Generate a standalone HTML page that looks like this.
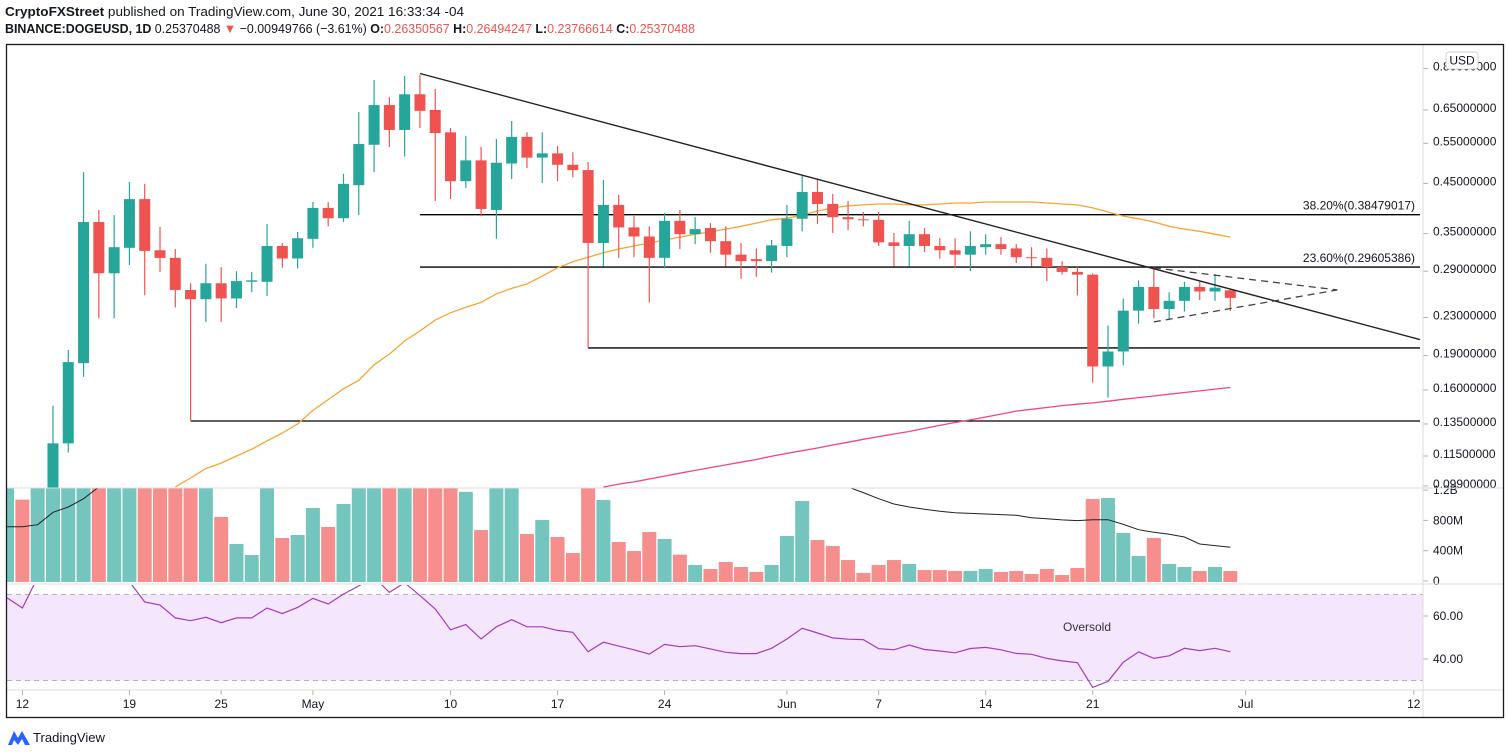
<!DOCTYPE html>
<html>
<head>
<meta charset="utf-8">
<style>
html,body{margin:0;padding:0;background:#fff;}
svg{display:block;font-family:"Liberation Sans",sans-serif;}
</style>
</head>
<body>
<svg id="chart" width="1508" height="755" viewBox="0 0 1508 755" xmlns="http://www.w3.org/2000/svg">
  <defs>
    <clipPath id="cpPrice"><rect x="7" y="45" width="1416" height="443"/></clipPath>
    <clipPath id="cpVol"><rect x="7" y="488" width="1416" height="95"/></clipPath>
    <clipPath id="cpRsi"><rect x="7" y="585" width="1416" height="105"/></clipPath>
  </defs>
  <rect x="0" y="0" width="1508" height="755" fill="#ffffff"/>
  <text x="5" y="16" font-size="13" fill="#131722" textLength="459" lengthAdjust="spacingAndGlyphs"><tspan font-weight="bold">CryptoFXStreet</tspan> published on TradingView.com, June 30, 2021 16:33:34 -04</text>
  <text x="5" y="33" font-size="13" fill="#131722" textLength="690" lengthAdjust="spacingAndGlyphs"><tspan font-weight="bold">BINANCE:DOGEUSD, 1D</tspan> 0.25370488 <tspan fill="#ef5350">▼</tspan> −0.00949766 (−3.61%) <tspan font-weight="bold">O:</tspan><tspan fill="#ef5350">0.26350567</tspan> <tspan font-weight="bold">H:</tspan><tspan fill="#ef5350">0.26494247</tspan> <tspan font-weight="bold">L:</tspan><tspan fill="#ef5350">0.23766614</tspan> <tspan font-weight="bold">C:</tspan><tspan fill="#ef5350">0.25370488</tspan></text>

  <g id="rsiBg"></g>
  <g id="pricePane" clip-path="url(#cpPrice)"></g>
  <g id="volPane" clip-path="url(#cpVol)"></g>
  <g id="rsiPane" clip-path="url(#cpRsi)"></g>
  <g id="axes"></g>

  <line x1="7" y1="488" x2="1503" y2="488" stroke="#dcdcdc" stroke-width="1"/>
  <line x1="7" y1="584" x2="1503" y2="584" stroke="#dcdcdc" stroke-width="1"/>
  <line x1="7" y1="690" x2="1503" y2="690" stroke="#dcdcdc" stroke-width="1"/>
  <line x1="1423" y1="45" x2="1423" y2="717" stroke="#dcdcdc" stroke-width="1"/>
  <rect x="6.5" y="44.5" width="1497" height="673" fill="none" stroke="#1a1a1a" stroke-width="1.3"/>

  <text x="1087" y="631" font-size="12" fill="#333" text-anchor="middle">Oversold</text>

  <rect x="1446" y="52" width="32" height="17" rx="3" fill="#fff" stroke="#d0d0d0"/>
  <text x="1462" y="64.5" font-size="12" fill="#131722" text-anchor="middle">USD</text>

  <g>
    <path d="M8 745 L14 731 L18 738 L22 731 L30 745 L25 745 L22 739 L18 745 L14 740 L12 745 Z" fill="#2962ff"/>
    <text x="33" y="742" font-size="13" fill="#131722" textLength="72" lengthAdjust="spacingAndGlyphs">TradingView</text>
  </g>
</svg>
<script>
// ---- data (day index d: -1 = Apr 11, 0 = Apr 12 ... 79 = Jun 30) ----
const firstDay = -1;
const opens = [.058,.064,.061,.093,.1225,.183,.371,.287,.326,.416,.322,.310,.264,.252,.273,.253,.275,.275,.329,.309,.341,.398,.378,.446,.546,.666,.588,.703,.650,.581,.455,.505,.394,.497,.568,.512,.523,.494,.481,.334,.404,.361,.345,.310,.373,.349,.360,.337,.315,.308,.305,.329,.377,.431,.406,.380,.376,.375,.335,.329,.349,.329,.322,.315,.327,.332,.325,.311,.310,.296,.289,.285,.180,.194,.238,.268,.240,.250,.268,.262,.2635];
const highs = [.062,.068,.097,.148,.1955,.476,.394,.384,.453,.449,.362,.324,.273,.301,.296,.290,.289,.367,.334,.353,.410,.410,.472,.643,.755,.693,.770,.774,.722,.594,.571,.540,.562,.615,.581,.581,.543,.526,.501,.458,.425,.382,.363,.388,.394,.380,.369,.363,.334,.325,.339,.404,.470,.461,.427,.412,.390,.390,.351,.373,.360,.342,.342,.354,.349,.344,.332,.327,.325,.305,.296,.287,.221,.253,.277,.296,.261,.275,.275,.286,.2649];
const lows = [.056,.058,.060,.090,.117,.171,.229,.229,.299,.257,.289,.242,.137,.225,.225,.241,.261,.256,.295,.294,.326,.363,.371,.384,.476,.540,.515,.594,.412,.416,.440,.382,.341,.460,.486,.451,.455,.464,.198,.297,.310,.311,.248,.294,.324,.332,.318,.297,.279,.282,.288,.311,.354,.367,.351,.356,.363,.329,.297,.297,.319,.309,.295,.290,.315,.315,.302,.297,.276,.285,.257,.166,.154,.181,.223,.229,.227,.237,.251,.250,.2377];
const closes = [.060,.061,.093,.1225,.184,.371,.287,.327,.416,.321,.310,.264,.252,.273,.253,.276,.277,.329,.309,.342,.398,.378,.449,.548,.666,.588,.703,.647,.579,.455,.505,.396,.499,.568,.512,.523,.494,.481,.334,.404,.361,.345,.310,.373,.349,.358,.337,.315,.305,.305,.330,.377,.431,.406,.380,.376,.375,.335,.329,.349,.329,.322,.315,.329,.332,.324,.311,.310,.296,.289,.285,.180,.194,.238,.268,.240,.250,.268,.262,.267,.2537];
// volume in millions
const volumes = [1500,1087,1800,2200,2600,3500,2800,1900,2000,2100,1600,1500,1400,1300,858,502,356,1400,581,620,977,726,1030,2200,3000,2500,2800,2600,2900,1900,1190,686,1500,1300,634,818,594,383,1300,1082,528,409,660,568,361,224,172,264,198,132,224,607,1069,554,475,290,119,224,290,238,158,158,145,145,172,132,145,106,172,92,185,1096,1109,647,343,581,238,198,145,198,145];
const volumeMA = [730,730,757,920,990,1100,1254,1350,1450,1550,1650,1750,1800,1850,1880,1900,1900,1920,1950,1980,2000,2050,2100,2150,2200,2220,2200,2150,2100,2080,2050,2000,1950,1900,1880,1850,1800,1780,1750,1700,1650,1600,1550,1500,1480,1450,1420,1400,1380,1360,1340,1320,1300,1290,1270,1254,1180,1100,1030,990,960,933,915,905,898,890,880,849,835,820,810,823,823,760,690,656,630,594,502,480,458];
const rsiValues = [68.4,63.7,78,85,89,90,75,77,76,66.5,65.1,59.1,57.8,59.4,56.9,59.1,59.1,63.7,61.1,64.0,68.2,65.6,70.2,74,78,71,75.5,69.5,63.3,53.6,56,49.3,55,58.3,55,55,53.3,52.4,43.4,47.8,46.0,44.3,42.3,46.8,45.7,46.2,44.7,43.1,42.5,42.5,45,49.3,54.3,52.1,49.8,49.2,49,44.8,44.3,46.5,44.4,43.7,42.9,44.9,45.4,44.3,42.6,42.2,40.3,39.1,38.3,26.8,29.6,38.5,43.3,40.3,41.5,45,43.9,45,43.4];
const ma50Start = 10;
const ma50 = [.0985,.103,.108,.111,.115,.119,.124,.129,.135,.1445,.1525,.161,.168,.1815,.1915,.2045,.215,.227,.2355,.242,.248,.259,.266,.272,.283,.295,.304,.311,.318,.324,.329,.334,.339,.344,.349,.353,.358,.363,.369,.375,.378,.384,.392,.398,.402,.404,.406,.406,.404,.404,.406,.408,.408,.410,.410,.410,.410,.408,.406,.404,.398,.390,.382,.377,.371,.363,.358,.354,.349,.344];
const ma200Start = 38;
const ma200 = [.0984,.0999,.101,.1025,.104,.1055,.107,.1085,.110,.1115,.113,.1148,.1165,.1181,.1197,.1215,.1232,.125,.1267,.1284,.130,.132,.134,.136,.1378,.1398,.1418,.144,.1453,.1466,.148,.149,.150,.1513,.1527,.154,.1553,.1567,.158,.1593,.1607,.162];
const priceTicks = [0.8,0.65,0.55,0.45,0.35,0.29,0.23,0.19,0.16,0.135,0.115,0.099];
const volTicks = [0,400,800,1200];
const volTickLabels = ["0","400M","800M","1.2B"];
const rsiTicks = [60,40];
const dateTickDays = [0,7,13,19,28,35,42,50,56,63,70,80,91];
const dateTickLabels = ["12","19","25","May","10","17","24","Jun","7","14","21","Jul","12"];
// drawings (day index, price)
const fibLevels = [0.38479017,0.29605386];
const fibLabels = ["38.20%(0.38479017)","23.60%(0.29605386)"];
const fibStartDay = 26;
const supportLevels = [0.1975,0.137];
const supportStartDays = [37,11];
const trendStart = [26,0.78];
const trendEnd = [91.4,0.206];
const triUpper = [[74,0.295],[86,0.264]];
const triLower = [[74,0.225],[86,0.264]];

// ---- scales ----
const NS = "http://www.w3.org/2000/svg";
function xd(d){return 22.4 + d*15.29;}
function yp(p){return 183.4 + 199.8*Math.log(0.45/p);}
function yv(v){return 582 - v/400*30.3;}
function yr(r){return 659 - (r-40)*2.15;}
function mk(tag, attrs, parent){const e=document.createElementNS(NS,tag);for(const k in attrs)e.setAttribute(k,attrs[k]);parent.appendChild(e);return e;}

const GREEN="#26a69a", RED="#ef5350";
const price=document.getElementById('pricePane');
const vol=document.getElementById('volPane');
const rsi=document.getElementById('rsiPane');
const axes=document.getElementById('axes');
const rsiBg=document.getElementById('rsiBg');

// RSI background band
const band=mk('rect',{x:7,y:yr(70),width:1416,height:yr(30)-yr(70),fill:'#f3e6fd'},rsiBg);


[70,30].forEach(v=>{
  const l=mk('line',{x1:7,x2:1423,y1:yr(v),y2:yr(v),stroke:'#b9adc6','stroke-dasharray':'5,4','stroke-width':1},rsiBg);
  
  
});

// horizontal fib lines
fibLevels.forEach((p,i)=>{
  const l=mk('line',{x1:xd(fibStartDay),x2:1420,y1:yp(p),y2:yp(p),stroke:'#000','stroke-width':1.3},price);
  
  
  const t=mk('text',{x:1415,y:yp(p)-5,'font-size':12,fill:'#131722','text-anchor':'end'},price);
  t.textContent=fibLabels[i];
  
  
});
supportLevels.forEach((p,i)=>{
  const l=mk('line',{x1:xd(supportStartDays[i]),x2:1420,y1:yp(p),y2:yp(p),stroke:'#000','stroke-width':1.3},price);
  
  
  const v=mk('line',{x1:xd(supportStartDays[i]),x2:xd(supportStartDays[i]),y1:yp(lows[supportStartDays[i]-firstDay]),y2:yp(p),stroke:RED,'stroke-width':1},price);
  
  
});

// moving averages
function pathFrom(arr,start,yf){return arr.map((v,i)=>(i?'L':'M')+xd(start+i).toFixed(1)+' '+yf(v).toFixed(1)).join(' ');}
const m50=mk('path',{d:pathFrom(ma50,ma50Start,yp),fill:'none',stroke:'#f7a531','stroke-width':1.3},price);


const m200=mk('path',{d:pathFrom(ma200,ma200Start,yp),fill:'none',stroke:'#f2467e','stroke-width':1.3},price);



// candles
for(let i=0;i<opens.length;i++){
  const d=firstDay+i, x=xd(d), up=closes[i]>=opens[i], c=up?GREEN:RED;
  const w=mk('line',{x1:x,x2:x,y1:yp(highs[i]),y2:yp(lows[i]),stroke:c,'stroke-width':1.2},price);
  
  
  const top=yp(Math.max(opens[i],closes[i])), bot=yp(Math.min(opens[i],closes[i]));
  const b=mk('rect',{x:x-5.5,y:top,width:11,height:Math.max(1,bot-top),fill:c},price);
  
  
}

// trendline and triangle
const tl=mk('line',{x1:xd(trendStart[0]),y1:yp(trendStart[1]),x2:xd(trendEnd[0]),y2:yp(trendEnd[1]),stroke:'#222','stroke-width':1.4},price);


[triUpper,triLower].forEach(seg=>{
  const l=mk('line',{x1:xd(seg[0][0]),y1:yp(seg[0][1]),x2:xd(seg[1][0]),y2:yp(seg[1][1]),stroke:'#444','stroke-width':1.3,'stroke-dasharray':'7,5'},price);
  
  
});

// volume
for(let i=0;i<volumes.length;i++){
  const d=firstDay+i, x=xd(d), up=closes[i]>=opens[i];
  const y=yv(volumes[i]);
  const r=mk('rect',{x:x-7,y:y,width:14,height:582-y,fill:up?'#74c5be':'#f68e8d'},vol);
  
  
}
const vma=mk('path',{d:pathFrom(volumeMA,firstDay,yv),fill:'none',stroke:'#222','stroke-width':1},vol);



// RSI
const rl=mk('path',{d:pathFrom(rsiValues,firstDay,yr),fill:'none',stroke:'#a63bbf','stroke-width':1.2},rsi);



// price axis
priceTicks.forEach(p=>{
  const y=yp(p);
  const tk=mk('line',{x1:1423,x2:1428,y1:y,y2:y,stroke:'#b0b0b0'},axes);
  
  
  const t=mk('text',{x:1433,y:y+2,'font-size':12,fill:'#131722'},axes);
  t.textContent=p.toFixed(8);
  
  
});
volTicks.forEach((v,i)=>{
  const y=yv(v)-1;
  const tk=mk('line',{x1:1423,x2:1428,y1:y,y2:y,stroke:'#b0b0b0'},axes);
  
  
  const t=mk('text',{x:1433,y:y+4,'font-size':12,fill:'#131722'},axes);
  t.textContent=volTickLabels[i];
  
  
});
rsiTicks.forEach(v=>{
  const y=yr(v);
  const tk=mk('line',{x1:1423,x2:1428,y1:y,y2:y,stroke:'#b0b0b0'},axes);
  
  
  const t=mk('text',{x:1433,y:y+4,'font-size':12,fill:'#131722'},axes);
  t.textContent=v.toFixed(2);
  
  
});
// date axis
dateTickDays.forEach((d,i)=>{
  const x=xd(d);
  const tk=mk('line',{x1:x,x2:x,y1:690,y2:695,stroke:'#b0b0b0'},axes);
  
  
  const t=mk('text',{x:x,y:708,'font-size':12,fill:'#131722','text-anchor':'middle'},axes);
  t.textContent=dateTickLabels[i];
  
  
});
</script>
</body>
</html>
